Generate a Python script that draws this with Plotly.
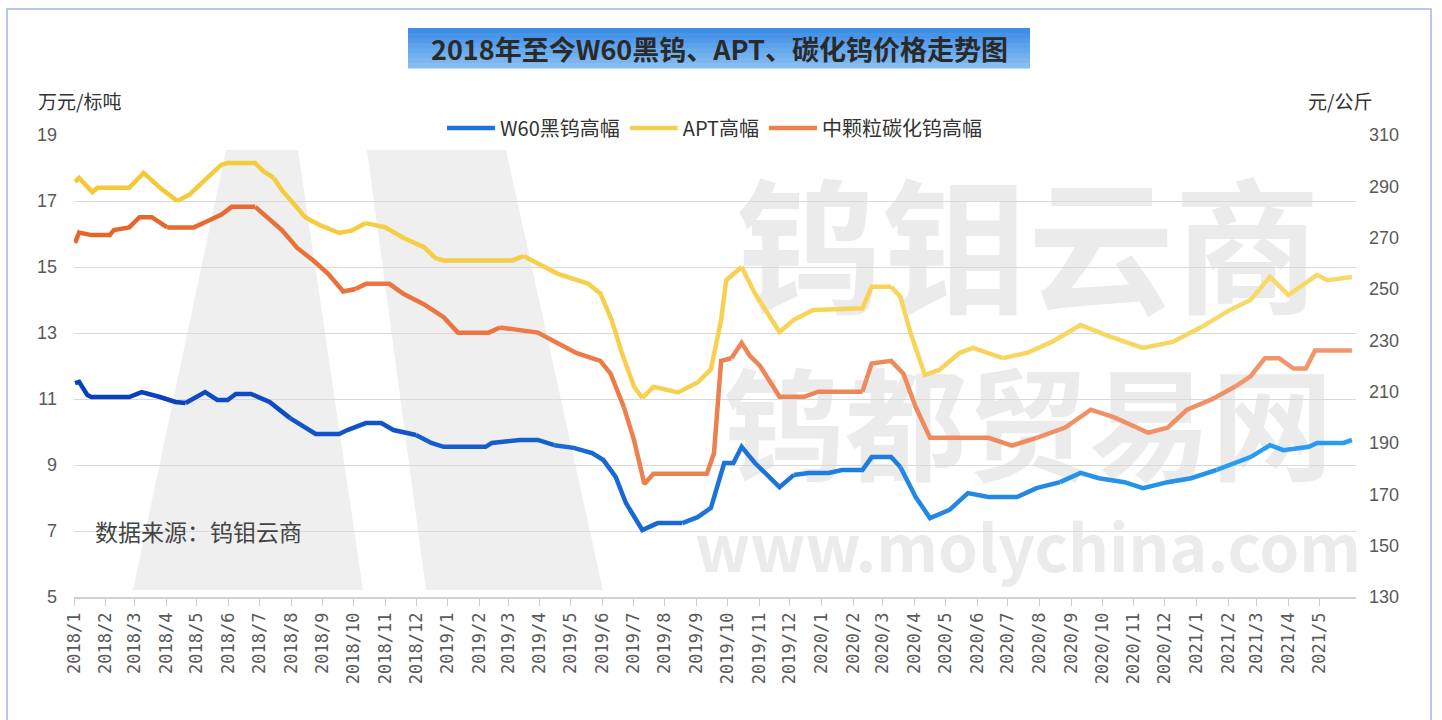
import plotly.graph_objects as go

# ---------------- data ----------------
month_ticks = [f"{y}-{m:02d}-01" for y in range(2018, 2022) for m in range(1, 13)
               if (y, m) <= (2021, 5)]
month_labels = [f"{y}/{m}" for y in range(2018, 2022) for m in range(1, 13)
                if (y, m) <= (2021, 5)]

w60_dates = ["2018-01-02","2018-01-06","2018-01-14","2018-01-18","2018-02-24","2018-03-08","2018-03-26",
             "2018-04-10","2018-04-20","2018-05-09","2018-05-21","2018-05-31","2018-06-08","2018-06-23",
             "2018-07-11","2018-07-31","2018-08-15","2018-08-25","2018-09-17","2018-09-25","2018-10-13",
             "2018-10-28","2018-11-09","2018-12-01","2018-12-16","2018-12-28","2019-02-07","2019-02-13",
             "2019-03-12","2019-03-30","2019-04-15","2019-05-04","2019-05-22","2019-06-02","2019-06-14",
             "2019-06-24","2019-07-10","2019-07-25","2019-08-18","2019-09-02","2019-09-15","2019-09-28",
             "2019-10-07","2019-10-15","2019-10-28","2019-11-21","2019-12-05","2019-12-19","2020-01-08",
             "2020-01-21","2020-02-10","2020-02-19","2020-03-09","2020-03-18","2020-04-02","2020-04-16",
             "2020-05-05","2020-05-23","2020-06-12","2020-07-10","2020-07-29","2020-08-21","2020-09-10",
             "2020-09-28","2020-10-23","2020-11-10","2020-12-04","2020-12-27","2021-01-21","2021-02-08",
             "2021-02-23","2021-03-14","2021-03-27","2021-04-21","2021-04-29","2021-05-25","2021-06-02"]
w60_vals = [11.48,11.52,11.12,11.06,11.06,11.21,11.06,10.91,10.88,11.21,10.97,10.97,11.15,11.15,
            10.91,10.42,10.12,9.94,9.94,10.06,10.27,10.27,10.06,9.91,9.67,9.55,9.55,9.67,
            9.76,9.76,9.60,9.52,9.36,9.15,8.64,7.85,7.03,7.24,7.24,7.42,7.70,9.06,
            9.06,9.55,9.06,8.33,8.70,8.76,8.76,8.85,8.85,9.24,9.24,8.94,8.03,7.39,
            7.64,8.15,8.03,8.03,8.30,8.48,8.76,8.60,8.48,8.30,8.48,8.60,8.85,9.06,
            9.24,9.60,9.45,9.55,9.67,9.67,9.76]

apt_dates = ["2018-01-02","2018-01-06","2018-01-19","2018-01-24","2018-02-24","2018-03-10","2018-03-26",
             "2018-04-12","2018-04-24","2018-05-09","2018-05-25","2018-05-31","2018-06-27","2018-07-05",
             "2018-07-15","2018-07-23","2018-08-03","2018-08-15","2018-08-29","2018-09-17","2018-09-29",
             "2018-10-13","2018-11-01","2018-11-19","2018-12-09","2018-12-20","2018-12-28","2019-03-05",
             "2019-03-16","2019-03-30","2019-04-18","2019-05-18","2019-05-30","2019-06-10","2019-06-20",
             "2019-07-02","2019-07-10","2019-07-21","2019-08-14","2019-09-02","2019-09-15","2019-09-25",
             "2019-09-30","2019-10-15","2019-10-28","2019-11-21","2019-12-05","2019-12-24","2020-02-10",
             "2020-02-19","2020-03-09","2020-03-18","2020-03-28","2020-04-11","2020-04-25","2020-05-15",
             "2020-05-28","2020-06-26","2020-07-20","2020-08-13","2020-09-10","2020-10-08","2020-11-10",
             "2020-12-09","2021-01-06","2021-02-03","2021-02-23","2021-03-14","2021-04-01","2021-04-29",
             "2021-05-09","2021-06-02"]
apt_vals = [17.58,17.70,17.27,17.40,17.40,17.85,17.40,17.00,17.20,17.64,18.10,18.15,18.15,17.90,
            17.70,17.33,16.94,16.50,16.27,16.03,16.10,16.33,16.20,15.88,15.60,15.27,15.20,15.20,
            15.33,15.10,14.80,14.50,14.20,13.40,12.40,11.37,11.03,11.37,11.20,11.50,11.90,13.40,
            14.60,15.00,14.20,13.03,13.40,13.70,13.75,14.40,14.40,14.10,13.00,11.73,11.88,12.40,
            12.55,12.24,12.40,12.73,13.24,12.90,12.55,12.73,13.18,13.70,14.00,14.70,14.15,14.76,
            14.60,14.70]

wc_dates = ["2018-01-02","2018-01-06","2018-01-18","2018-02-05","2018-02-09","2018-02-24","2018-03-06",
            "2018-03-18","2018-04-02","2018-04-10","2018-04-28","2018-05-09","2018-05-25","2018-06-04",
            "2018-06-16","2018-06-27","2018-07-09","2018-07-23","2018-08-07","2018-08-23","2018-09-06",
            "2018-09-21","2018-10-03","2018-10-13","2018-11-05","2018-11-19","2018-12-09","2018-12-28",
            "2019-01-11","2019-02-10","2019-02-21","2019-03-12","2019-03-30","2019-04-18","2019-05-07",
            "2019-05-30","2019-06-09","2019-06-14","2019-06-22","2019-07-02","2019-07-12","2019-07-21",
            "2019-09-11","2019-09-18","2019-09-25","2019-10-05","2019-10-15","2019-10-23","2019-11-02",
            "2019-11-21","2019-12-15","2019-12-29","2020-02-10","2020-02-19","2020-03-09","2020-03-21",
            "2020-04-02","2020-04-16","2020-06-12","2020-07-05","2020-07-29","2020-08-26","2020-09-20",
            "2020-10-13","2020-11-15","2020-12-04","2020-12-23","2021-01-16","2021-02-08","2021-02-23",
            "2021-03-09","2021-03-23","2021-04-06","2021-04-18","2021-04-27","2021-06-02"]
wc_vals = [268,272,271,271,273,274,278,278,274,274,274,276,279,282,
           282,282,278,273,266,261,256,249,250,252,252,248,244,239,
           233,233,235,234,233,229,225,222,217,212,204,191,174,178,
           178,186,222,223,229,224,220,208,208,210,210,221,222,217,
           204,192,192,189,192,196,203,200,194,196,203,207,212,216,
           223,223,219,219,226,226]

# ---------------- geometry helpers ----------------
W, H = 1442, 720
ML, MR, MT, MB = 74, 86, 135, 123
PW, PH = W - ML - MR, H - MT - MB


def px(x):
    return (x - ML) / PW


def py(y):
    return (H - MB - y) / PH


def hex2rgb(h):
    h = h.lstrip("#")
    return tuple(int(h[i:i + 2], 16) for i in (0, 2, 4))


def mix(c0, c1, t):
    a, b = hex2rgb(c0), hex2rgb(c1)
    return "rgb(%d,%d,%d)" % tuple(round(a[i] + (b[i] - a[i]) * t) for i in range(3))


fig = go.Figure()


def add_series(dates, vals, name, c0, c1, yaxis, rank, nseg=10):
    n = len(dates)
    bounds = [round(i * (n - 1) / nseg) for i in range(nseg + 1)]
    for k in range(nseg):
        a, b = bounds[k], bounds[k + 1]
        fig.add_trace(go.Scatter(
            x=dates[a:b + 1], y=vals[a:b + 1], mode="lines", name=name,
            line=dict(color=mix(c0, c1, k / (nseg - 1)), width=4.5),
            legendgroup=name, showlegend=(k == nseg // 2), legendrank=rank,
            yaxis=yaxis))


add_series(apt_dates, apt_vals, "APT高幅", "#f4c935", "#f8d868", "y", 2)
add_series(wc_dates, wc_vals, "中颗粒碳化钨高幅", "#e8652a", "#f0966c", "y2", 3)
add_series(w60_dates, w60_vals, "W60黑钨高幅", "#0a40bc", "#2a9cf0", "y", 1)

shapes = []
# watermark "M" logo
for pts in ([(133, 590), (226, 150), (298, 150), (363, 590)],
            [(367, 150), (506, 150), (603, 590), (426, 590)]):
    path = "M " + " L ".join(f"{px(a):.4f},{py(b):.4f}" for a, b in pts) + " Z"
    shapes.append(dict(type="path", xref="paper", yref="paper", path=path,
                       fillcolor="#efefef", line=dict(width=0), layer="below"))
# watermark texts
for txt, y0, y1, size in (("<b>钨钼云商</b>", 178, 344, 146),
                          ("<b>钨都贸易网</b>", 358, 517, 122),
                          ("<b>www.molychina.com</b>", 522, 585, 64)):
    shapes.append(dict(type="rect", xref="paper", yref="paper",
                       x0=px(708), x1=px(1348), y0=py(y1), y1=py(y0),
                       line=dict(width=0), fillcolor="rgba(0,0,0,0)", layer="below",
                       label=dict(text=txt, textposition="middle center",
                                  font=dict(size=size, color="#ebebeb",
                                            family="Noto Sans CJK SC, Liberation Sans"))))
# title box (vertical gradient)
nstr = 8
for i in range(nstr):
    y0 = 28 + i * 40 / nstr
    y1 = 28 + (i + 1) * 40 / nstr
    shapes.append(dict(type="rect", xref="paper", yref="paper",
                       x0=px(408), x1=px(1030), y0=py(y1 + 0.5), y1=py(y0),
                       fillcolor=mix("#3e8ee6", "#86bdf3", i / (nstr - 1)),
                       line=dict(width=0), layer="above"))
# outer frame
shapes.append(dict(type="rect", xref="paper", yref="paper",
                   x0=px(7), x1=px(1431), y0=py(722), y1=py(9),
                   line=dict(color="#9fb6ea", width=1.5), fillcolor="rgba(0,0,0,0)",
                   layer="below"))

annotations = [
    dict(text="<b>2018年至今W60黑钨、APT、碳化钨价格走势图</b>", x=px(719), y=py(48),
         xref="paper", yref="paper", showarrow=False, xanchor="center", yanchor="middle",
         font=dict(size=27, color="#2a2a2a", family="Noto Sans CJK SC")),
    dict(text="万元/标吨", x=px(36), y=py(100), xref="paper", yref="paper", showarrow=False,
         xanchor="left", yanchor="middle",
         font=dict(size=19, color="#333333", family="Noto Sans CJK SC")),
    dict(text="元/公斤", x=px(1374), y=py(100), xref="paper", yref="paper", showarrow=False,
         xanchor="right", yanchor="middle",
         font=dict(size=19, color="#333333", family="Noto Sans CJK SC")),
    dict(text="数据来源：钨钼云商", x=px(93), y=py(531), xref="paper", yref="paper",
         showarrow=False, xanchor="left", yanchor="middle",
         font=dict(size=23, color="#444444", family="Noto Sans CJK SC")),
]

fig.update_layout(
    width=W, height=H,
    margin=dict(l=ML, r=MR, t=MT, b=MB, autoexpand=False),
    paper_bgcolor="white", plot_bgcolor="rgba(0,0,0,0)",
    shapes=shapes, annotations=annotations,
    legend=dict(orientation="h", x=0.5, xanchor="center", y=py(128), yanchor="middle",
                bgcolor="white", font=dict(size=20, color="#333333", family="Noto Sans CJK SC"),
                itemwidth=48, tracegroupgap=0),
    xaxis=dict(type="date", range=["2018-01-01", "2021-06-06"], automargin=False,
               tickmode="array", tickvals=month_ticks, ticktext=month_labels,
               tickangle=-90, ticks="outside", ticklen=7, tickcolor="#cccccc",
               showline=True, linecolor="#d0d0d0", linewidth=1.5, showgrid=False,
               tickfont=dict(size=17, color="#5a5a5a", family="DejaVu Sans Mono")),
    yaxis=dict(range=[5, 19], tickvals=list(range(5, 20, 2)), showgrid=True, automargin=False,
               gridcolor="#d9d9d9", gridwidth=1.2, zeroline=False, showline=False,
               ticklabelstandoff=16,
               tickfont=dict(size=18, color="#595959", family="Liberation Sans")),
    yaxis2=dict(range=[130, 310], tickvals=list(range(130, 311, 20)), overlaying="y",
                side="right", showgrid=False, zeroline=False, showline=False, automargin=False,
                ticklabelstandoff=12,
                tickfont=dict(size=18, color="#595959", family="Liberation Sans")),
    showlegend=True,
)

fig.write_html("out.html", config={"displayModeBar": False},
               post_script="document.body.style.margin='0';document.body.style.padding='0';")
